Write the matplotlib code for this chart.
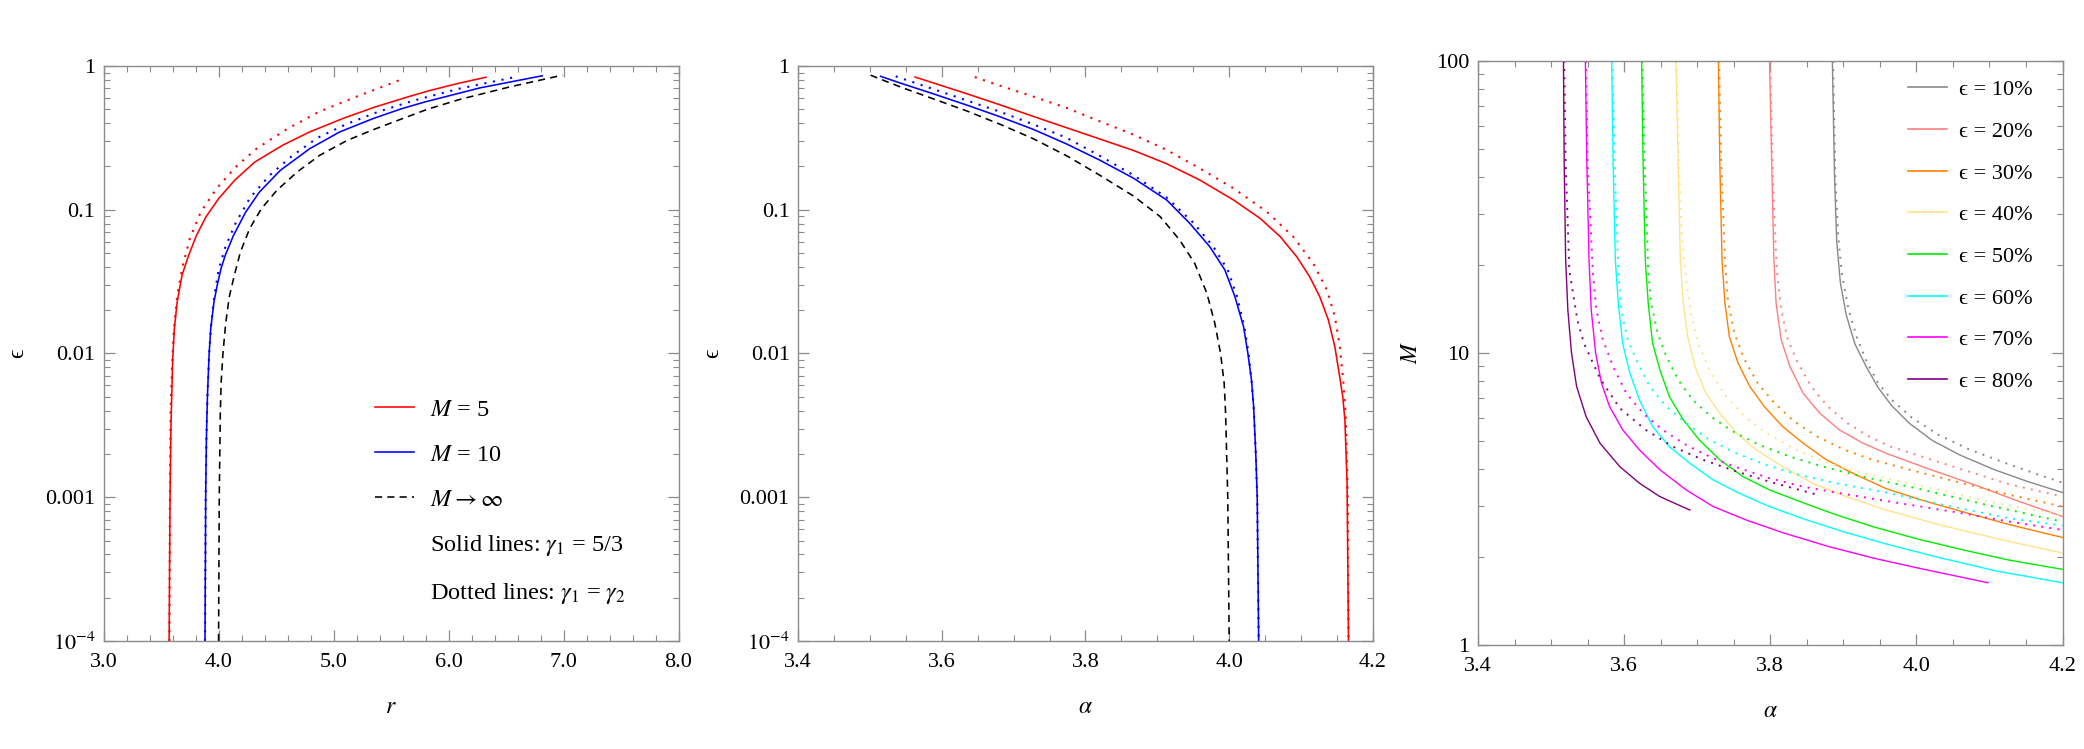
import numpy as np
import matplotlib
matplotlib.use('Agg')
import matplotlib.pyplot as plt
from matplotlib.lines import Line2D
from matplotlib.ticker import LogLocator, MultipleLocator, NullFormatter

plt.rcParams['font.family'] = ['Liberation Serif', 'STIXGeneral', 'DejaVu Serif']
plt.rcParams['mathtext.fontset'] = 'stix'

# ---------------- panel 1: epsilon vs r (log10 eps) ----------------
r_red_solid = [3.570, 3.578, 3.586, 3.601, 3.615, 3.640, 3.682, 3.740, 3.808, 3.890, 4.000,
               4.140, 4.315, 4.556, 4.792, 5.078, 5.362, 5.642, 5.830, 6.080, 6.326]
le_red_solid = [-4.0, -3.0, -2.5, -2.047, -1.83, -1.642, -1.456, -1.317, -1.178, -1.050, -0.923,
                -0.795, -0.668, -0.552, -0.459, -0.366, -0.285, -0.216, -0.172, -0.122, -0.078]
r_red_dot = [3.573, 3.577, 3.583, 3.595, 3.610, 3.640, 3.685, 3.750, 3.845, 3.982, 4.148,
             4.330, 4.600, 4.870, 5.190, 5.400, 5.600]
le_red_dot = [-4.0, -3.0, -2.4, -2.1, -1.85, -1.60, -1.40, -1.201, -1.016, -0.853, -0.703,
              -0.575, -0.436, -0.320, -0.216, -0.152, -0.090]
r_blue_solid = [3.882, 3.888, 3.894, 3.903, 3.918, 3.932, 3.960, 3.988, 4.021, 4.058, 4.130,
                4.236, 4.355, 4.537, 4.793, 5.053, 5.343, 5.593, 5.795, 6.275, 6.815]
le_blue_solid = [-4.0, -3.0, -2.6, -2.3, -2.0, -1.827, -1.642, -1.526, -1.410, -1.317, -1.178,
                 -1.016, -0.877, -0.726, -0.575, -0.459, -0.366, -0.297, -0.250, -0.152, -0.068]
r_blue_dot = [3.882, 3.888, 3.894, 3.903, 3.918, 3.934, 3.962, 4.000, 4.060, 4.150, 4.275,
              4.445, 4.640, 4.860, 5.110, 5.390, 5.700, 6.080, 6.565]
le_blue_dot = [-4.0, -3.0, -2.6, -2.3, -2.0, -1.814, -1.605, -1.419, -1.257, -1.090, -0.915,
               -0.760, -0.625, -0.500, -0.405, -0.318, -0.240, -0.160, -0.079]
r_inf = [4.000, 4.006, 4.015, 4.022, 4.038, 4.062, 4.092, 4.137, 4.190, 4.270, 4.372, 4.507,
         4.684, 4.880, 5.120, 5.330, 5.570, 5.820, 6.100, 6.535, 6.990]
le_r_inf = [-4.0, -3.0, -2.416, -2.207, -2.0, -1.790, -1.610, -1.456, -1.294, -1.132, -0.993, -0.865,
            -0.737, -0.621, -0.517, -0.448, -0.375, -0.300, -0.232, -0.145, -0.064]

# ---------------- panel 2: epsilon vs alpha (log10 eps) ----------------
a_red_solid = [3.563, 3.635, 3.681, 3.727, 3.774, 3.820, 3.867, 3.913, 3.959, 4.006, 4.043,
               4.071, 4.094, 4.112, 4.126, 4.138, 4.147, 4.153, 4.158, 4.161, 4.164, 4.166]
lea_red_solid = [-0.077, -0.193, -0.270, -0.350, -0.430, -0.508, -0.588, -0.680, -0.793, -0.932, -1.060,
                 -1.187, -1.327, -1.466, -1.605, -1.767, -1.953, -2.138, -2.300, -2.463, -2.9, -4.0]
a_red_dot = [3.646, 3.681, 3.727, 3.774, 3.820, 3.867, 3.913, 3.959, 4.006, 4.052, 4.089,
             4.117, 4.136, 4.147, 4.154, 4.159, 4.162, 4.165, 4.166]
lea_red_dot = [-0.077, -0.137, -0.212, -0.292, -0.385, -0.478, -0.584, -0.712, -0.851, -1.013, -1.187,
               -1.373, -1.558, -1.744, -1.953, -2.207, -2.416, -3.0, -4.0]
a_blue_solid = [3.515, 3.542, 3.588, 3.635, 3.681, 3.727, 3.774, 3.820, 3.867, 3.913, 3.945,
                3.973, 3.994, 4.008, 4.020, 4.026, 4.031, 4.034, 4.037, 4.039, 4.041]
lea_blue_solid = [-0.072, -0.118, -0.193, -0.272, -0.353, -0.440, -0.543, -0.655, -0.781, -0.932, -1.094,
                  -1.257, -1.419, -1.605, -1.814, -1.999, -2.184, -2.370, -2.7, -3.0, -4.0]
a_blue_dot = [3.536, 3.588, 3.635, 3.681, 3.727, 3.774, 3.820, 3.867, 3.913, 3.950, 3.978,
              3.998, 4.011, 4.021, 4.027, 4.031, 4.034, 4.037, 4.039, 4.041]
lea_blue_dot = [-0.072, -0.160, -0.240, -0.318, -0.405, -0.500, -0.625, -0.760, -0.915, -1.090, -1.257,
                -1.419, -1.605, -1.814, -2.0, -2.184, -2.370, -2.7, -3.0, -4.0]
a_inf = [3.501, 3.542, 3.588, 3.635, 3.681, 3.727, 3.774, 3.820, 3.867, 3.904, 3.931, 3.952,
         3.969, 3.980, 3.988, 3.993, 3.995, 3.998, 4.000]
lea_inf = [-0.064, -0.145, -0.228, -0.313, -0.405, -0.505, -0.625, -0.760, -0.905, -1.048, -1.210,
           -1.373, -1.582, -1.790, -1.999, -2.207, -2.416, -3.0, -4.0]

# ---------------- panel 3: M vs alpha (log10 M) ----------------
eps_labels = ['10%', '20%', '30%', '40%', '50%', '60%', '70%', '80%']
eps_colors = ['#888888', '#FF7F7F', '#FF8000', '#FFE38A', '#00EE00', '#00FFFF', '#FF00FF', '#800080']

a10 = [3.885, 3.888, 3.891, 3.896, 3.904, 3.916, 3.932, 3.948, 3.966, 3.990, 4.022, 4.060, 4.107,
       4.152, 4.200]
m10 = [2.0, 1.6, 1.38, 1.24, 1.13, 1.03, 0.95, 0.88, 0.82, 0.76, 0.70, 0.65, 0.60, 0.56, 0.522]
a20 = [3.799, 3.802, 3.805, 3.808, 3.815, 3.827, 3.845, 3.868, 3.895, 3.927, 3.959, 4.020, 4.080,
       4.140, 4.200]
m20 = [2.0, 1.65, 1.318, 1.170, 1.045, 0.953, 0.862, 0.793, 0.736, 0.691, 0.656, 0.600, 0.548,
       0.492, 0.440]
a30 = [3.729, 3.731, 3.734, 3.738, 3.744, 3.756, 3.772, 3.792, 3.817, 3.845, 3.877, 3.913, 3.959,
       4.010, 4.065, 4.126, 4.200]
m30 = [2.0, 1.65, 1.318, 1.170, 1.056, 0.965, 0.885, 0.816, 0.748, 0.691, 0.634, 0.588, 0.535,
       0.494, 0.455, 0.413, 0.368]
a40 = [3.671, 3.674, 3.677, 3.681, 3.687, 3.697, 3.712, 3.731, 3.754, 3.781, 3.817, 3.858, 3.904,
       3.959, 4.034, 4.126, 4.200]
m40 = [2.0, 1.65, 1.318, 1.170, 1.056, 0.953, 0.862, 0.793, 0.725, 0.668, 0.611, 0.554, 0.508,
       0.462, 0.410, 0.355, 0.315]
a50 = [3.624, 3.626, 3.629, 3.633, 3.639, 3.649, 3.662, 3.681, 3.703, 3.731, 3.763, 3.799, 3.845,
       3.890, 3.942, 4.003, 4.065, 4.126, 4.200]
m50 = [2.0, 1.65, 1.318, 1.170, 1.033, 0.942, 0.850, 0.771, 0.702, 0.634, 0.576, 0.531, 0.487,
       0.446, 0.404, 0.362, 0.325, 0.291, 0.259]
a60 = [3.583, 3.585, 3.588, 3.592, 3.598, 3.608, 3.621, 3.639, 3.662, 3.690, 3.722, 3.758, 3.799,
       3.850, 3.900, 3.960, 4.030, 4.110, 4.200]
m60 = [2.0, 1.65, 1.318, 1.170, 1.033, 0.930, 0.839, 0.748, 0.679, 0.622, 0.565, 0.519, 0.474,
       0.428, 0.388, 0.345, 0.300, 0.253, 0.213]
a70 = [3.547, 3.549, 3.552, 3.555, 3.561, 3.569, 3.580, 3.598, 3.621, 3.649, 3.685, 3.722, 3.767,
       3.819, 3.880, 3.942, 4.003, 4.098]
m70 = [2.0, 1.65, 1.318, 1.147, 1.0, 0.897, 0.817, 0.737, 0.668, 0.600, 0.531, 0.474, 0.428,
       0.383, 0.337, 0.297, 0.263, 0.213]
a80 = [3.517, 3.518, 3.520, 3.523, 3.528, 3.535, 3.548, 3.567, 3.594, 3.621, 3.649, 3.690]
m80 = [2.0, 1.65, 1.318, 1.147, 1.0, 0.885, 0.782, 0.691, 0.611, 0.554, 0.508, 0.462]

a10d = [3.886, 3.889, 3.893, 3.898, 3.907, 3.919, 3.932, 3.947, 3.966, 3.993, 4.030, 4.072, 4.125,
        4.165, 4.200]
m10d = [2.0, 1.6, 1.40, 1.27, 1.15, 1.05, 0.97, 0.90, 0.84, 0.78, 0.72, 0.67, 0.62, 0.585, 0.556]
a20d = [3.800, 3.803, 3.806, 3.809, 3.815, 3.824, 3.838, 3.856, 3.879, 3.906, 3.936, 3.964, 4.065,
        4.126, 4.200]
m20d = [2.0, 1.65, 1.45, 1.284, 1.147, 1.045, 0.965, 0.885, 0.816, 0.759, 0.713, 0.680, 0.599,
        0.551, 0.508]
a30d = [3.730, 3.733, 3.738, 3.742, 3.751, 3.765, 3.783, 3.806, 3.833, 3.865, 3.902, 3.940, 4.000,
        4.065, 4.126, 4.200]
m30d = [2.0, 1.65, 1.318, 1.182, 1.067, 0.976, 0.896, 0.828, 0.765, 0.713, 0.668, 0.634, 0.594,
        0.553, 0.515, 0.474]
a40d = [3.672, 3.675, 3.679, 3.685, 3.692, 3.703, 3.719, 3.740, 3.765, 3.795, 3.831, 3.872, 3.918,
        3.964, 4.030, 4.100, 4.200]
m40d = [2.0, 1.65, 1.40, 1.250, 1.124, 1.021, 0.930, 0.850, 0.782, 0.725, 0.674, 0.628, 0.594,
        0.568, 0.532, 0.490, 0.445]
a50d = [3.625, 3.628, 3.631, 3.633, 3.637, 3.646, 3.658, 3.674, 3.694, 3.719, 3.749, 3.785, 3.827,
        3.872, 3.922, 4.003, 4.101, 4.200]
m50d = [2.0, 1.65, 1.45, 1.284, 1.170, 1.067, 0.987, 0.908, 0.839, 0.782, 0.731, 0.685, 0.645,
        0.611, 0.579, 0.535, 0.477, 0.422]
a60d = [3.584, 3.587, 3.590, 3.592, 3.596, 3.605, 3.619, 3.635, 3.658, 3.685, 3.717, 3.754, 3.795,
        3.840, 3.890, 3.959, 4.040, 4.126, 4.200]
m60d = [2.0, 1.65, 1.45, 1.284, 1.147, 1.045, 0.965, 0.885, 0.816, 0.759, 0.702, 0.656, 0.616,
        0.582, 0.554, 0.522, 0.478, 0.434, 0.409]
a70d = [3.548, 3.550, 3.554, 3.557, 3.562, 3.571, 3.585, 3.603, 3.626, 3.653, 3.685, 3.722, 3.758,
        3.799, 3.845, 3.890, 3.959, 4.065, 4.126, 4.200]
m70d = [2.0, 1.65, 1.45, 1.284, 1.147, 1.045, 0.953, 0.862, 0.793, 0.736, 0.685, 0.639, 0.605,
        0.571, 0.542, 0.522, 0.493, 0.450, 0.423, 0.394]
a80d = [3.518, 3.520, 3.523, 3.525, 3.536, 3.545, 3.567, 3.594, 3.630, 3.667, 3.708, 3.754, 3.799,
        3.865]
m80d = [2.0, 1.65, 1.433, 1.284, 1.113, 1.033, 0.913, 0.811, 0.736, 0.679, 0.634, 0.594, 0.559,
        0.514]

solid_sets = [(a10, m10), (a20, m20), (a30, m30), (a40, m40),
              (a50, m50), (a60, m60), (a70, m70), (a80, m80)]
dotted_sets = [(a10d, m10d), (a20d, m20d), (a30d, m30d), (a40d, m40d),
               (a50d, m50d), (a60d, m60d), (a70d, m70d), (a80d, m80d)]

FRAME = '#8c8c8c'
DOT = (0, (1, 3.2))
DASH = (0, (4.5, 3.2))


def pw(v):
    return np.power(10.0, np.asarray(v))


def style(ax):
    for s in ax.spines.values():
        s.set_color(FRAME)
        s.set_linewidth(1.0)
    ax.tick_params(which='both', direction='in', top=True, right=True,
                   color=FRAME, labelsize=16, labelcolor='black')
    ax.tick_params(which='major', length=8, width=0.9)
    ax.tick_params(which='minor', length=4, width=0.8)
    ax.tick_params(axis='x', which='both', pad=9)
    ax.tick_params(axis='y', which='both', pad=6)
    ax.yaxis.set_minor_locator(LogLocator(base=10, subs=np.arange(2, 10)))
    ax.yaxis.set_minor_formatter(NullFormatter())


fig = plt.figure(figsize=(20.84, 7.49), dpi=100)
ax1 = fig.add_axes([0.0497, 0.1442, 0.2759, 0.7677])
ax2 = fig.add_axes([0.3829, 0.1442, 0.2759, 0.7677])
ax3 = fig.add_axes([0.7092, 0.1389, 0.2805, 0.7797])

lw = 1.15
# panel 1
ax1.plot(r_red_solid, pw(le_red_solid), color='red', lw=lw)
ax1.plot(r_red_dot, pw(le_red_dot), color='red', lw=1.5, ls=DOT)
ax1.plot(r_blue_solid, pw(le_blue_solid), color='blue', lw=lw)
ax1.plot(r_blue_dot, pw(le_blue_dot), color='blue', lw=1.5, ls=DOT)
ax1.plot(r_inf, pw(le_r_inf), color='black', lw=lw, ls=DASH)

# panel 2
ax2.plot(a_red_solid, pw(lea_red_solid), color='red', lw=lw)
ax2.plot(a_red_dot, pw(lea_red_dot), color='red', lw=1.5, ls=DOT)
ax2.plot(a_blue_solid, pw(lea_blue_solid), color='blue', lw=lw)
ax2.plot(a_blue_dot, pw(lea_blue_dot), color='blue', lw=1.5, ls=DOT)
ax2.plot(a_inf, pw(lea_inf), color='black', lw=lw, ls=DASH)

for ax in (ax1, ax2):
    ax.set_yscale('log')
    ax.set_ylim(1e-4, 1)
    style(ax)
    ax.set_yticks([1e-4, 1e-3, 1e-2, 0.1, 1],
                  labels=[r'$10^{-4}$', '0.001', '0.01', '0.1', '1'])
    ax.set_ylabel('\u03f5', fontsize=17, labelpad=12)

ax1.set_xlim(3, 8)
ax1.set_xticks([3, 4, 5, 6, 7, 8], labels=['3.0', '4.0', '5.0', '6.0', '7.0', '8.0'])
ax1.xaxis.set_minor_locator(MultipleLocator(0.2))
ax1.set_xlabel(r'$r$', fontsize=17, labelpad=18)

ax2.set_xlim(3.4, 4.2)
ax2.set_xticks([3.4, 3.6, 3.8, 4.0, 4.2], labels=['3.4', '3.6', '3.8', '4.0', '4.2'])
ax2.xaxis.set_minor_locator(MultipleLocator(0.05))
ax2.set_xlabel(r'$\alpha$', fontsize=17, labelpad=18)

# legend of panel 1
blank = Line2D([], [], color='none')
h1 = [Line2D([], [], color='red', lw=lw), Line2D([], [], color='blue', lw=lw),
      Line2D([], [], color='black', lw=lw, ls=DASH), blank, blank]
l1 = [r'$M$ = 5', r'$M$ = 10', r'$M \rightarrow \infty$',
      r'Solid lines: $\gamma_1$ = 5/3', r'Dotted lines: $\gamma_1$ = $\gamma_2$']
ax1.legend(h1, l1, loc='upper left', bbox_to_anchor=(0.472, 0.421), frameon=False,
           fontsize=17.5, handlelength=1.6, handletextpad=0.65, labelspacing=0.94,
           borderpad=0, borderaxespad=0)

# panel 3
for (a, m), (ad, md), c in zip(solid_sets, dotted_sets, eps_colors):
    ax3.plot(a, pw(m), color=c, lw=1.0)
    ax3.plot(ad, pw(md), color=c, lw=1.4, ls=DOT)

ax3.set_yscale('log')
ax3.set_ylim(1, 100)
ax3.set_xlim(3.4, 4.2)
style(ax3)
ax3.set_yticks([1, 10, 100], labels=['1', '10', '100'])
ax3.set_xticks([3.4, 3.6, 3.8, 4.0, 4.2], labels=['3.4', '3.6', '3.8', '4.0', '4.2'])
ax3.xaxis.set_minor_locator(MultipleLocator(0.05))
ax3.set_xlabel(r'$\alpha$', fontsize=17, labelpad=18)
ax3.set_ylabel(r'$M$', fontsize=17, labelpad=10)

h3 = [Line2D([], [], color=c, lw=1.2) for c in eps_colors]
l3 = ['\u03f5 = ' + s for s in eps_labels]
ax3.legend(h3, l3, loc='upper left', bbox_to_anchor=(0.735, 0.968), frameon=False,
           fontsize=16, handlelength=1.75, handletextpad=0.55, labelspacing=0.95,
           borderpad=0, borderaxespad=0)

fig.savefig('out.png', dpi=100)
